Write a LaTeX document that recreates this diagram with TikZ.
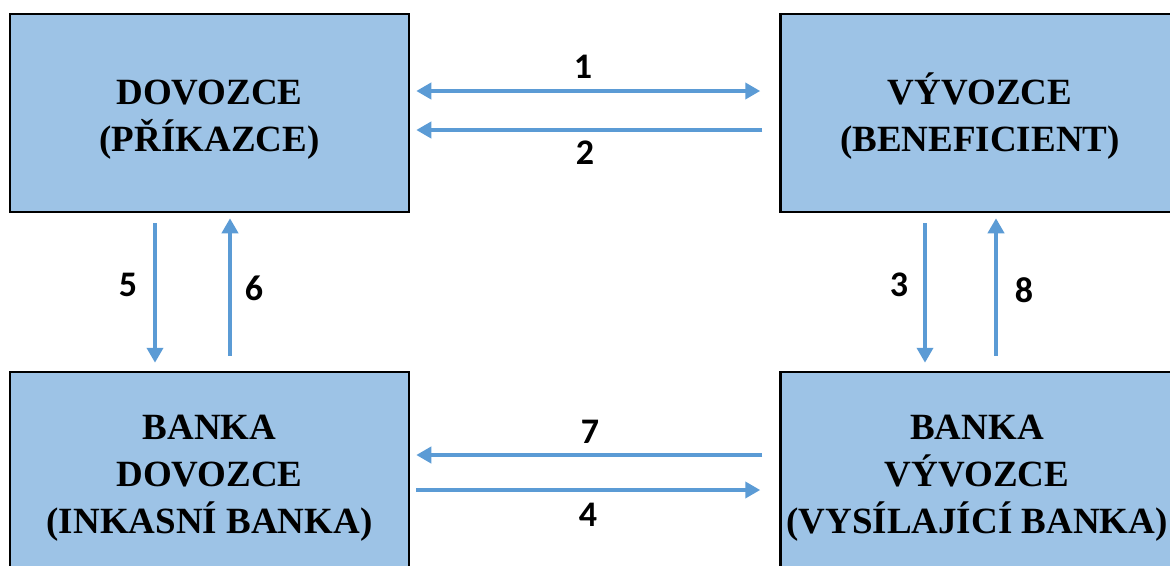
\documentclass[tikz,border=0pt]{standalone}
\usepackage{fontspec}
\setmainfont{Liberation Serif}
\newfontfamily\numfont{Carlito}
\usetikzlibrary{arrows.meta}
\definecolor{boxfill}{HTML}{9DC3E6}
\definecolor{arrcol}{HTML}{5B9BD5}
\begin{document}
\begin{tikzpicture}[x=1pt,y=-1pt,
  box/.style={draw=black,line width=2.5pt,fill=boxfill,minimum width=399pt,minimum height=198pt,
    inner sep=0pt},
  boxtext/.style={align=center,inner sep=0pt,font=\fontsize{37}{47}\selectfont\bfseries},
  arr/.style={draw=arrcol,line width=4pt,-{Triangle[width=16pt,length=15pt]}},
  num/.style={font=\numfont\fontsize{36}{40}\selectfont\bfseries}]
\useasboundingbox (0,0) rectangle (1170,565);
\clip (0,0) rectangle (1170,565);
\node[box] (tl) at (209.5,113) {};
\node[box] (tr) at (980,113) {};
\node[box] (bl) at (209.5,471) {};
\node[box] (br) at (980,471) {};
\node[boxtext] (tlt) at ([yshift=-7pt]tl.center) {DOVOZCE\\(PŘÍKAZCE)};
\node[boxtext] (trt) at ([yshift=-3pt]tr.center) {VÝVOZCE\\(BENEFICIENT)};
\node[boxtext] (blt) at ([xshift=0pt,yshift=-7pt]bl.center) {BANKA\\DOVOZCE\\(INKASNÍ BANKA)};
\node[boxtext] (brt) at ([xshift=-3pt,yshift=-7pt]br.center) {BANKA\\VÝVOZCE\\(VYSÍLAJÍCÍ BANKA)};
% horizontal arrows
\draw[arr,{Triangle[width=16pt,length=15pt]}-{Triangle[width=16pt,length=15pt]}]
  ([xshift=6pt,yshift=22pt]tl.east) -- ([xshift=-19pt,yshift=22pt]tr.west);
\draw[arr] ([xshift=-17pt,yshift=-17pt]tr.west) -- ([xshift=6pt,yshift=-17pt]tl.east);
\draw[arr] ([xshift=-17pt,yshift=16pt]br.west) -- ([xshift=6pt,yshift=16pt]bl.east);
\draw[arr] ([xshift=6pt,yshift=-19pt]bl.east) -- ([xshift=-19pt,yshift=-19pt]br.west);
% vertical arrows
\draw[arr] ([xshift=-54.5pt,yshift=-10pt]tl.south) -- ([xshift=-54.5pt,yshift=8pt]bl.north);
\draw[arr] ([xshift=20.5pt,yshift=15pt]bl.north) -- ([xshift=20.5pt,yshift=-5pt]tl.south);
\draw[arr] ([xshift=-55pt,yshift=-10pt]tr.south) -- ([xshift=-55pt,yshift=8pt]br.north);
\draw[arr] ([xshift=16pt,yshift=15pt]br.north) -- ([xshift=16pt,yshift=-5pt]tr.south);
% labels
\node[num] (n1) at (583,67) {1};
\node[num] (n2) at (585,153) {2};
\node[num] (n5) at (128,285) {5};
\node[num] (n6) at (254,288) {6};
\node[num] (n3) at (899,285) {3};
\node[num] (n8) at (1024,290) {8};
\node[num] (n7) at (590,432) {7};
\node[num] (n4) at (588,515) {4};
\end{tikzpicture}
\end{document}
